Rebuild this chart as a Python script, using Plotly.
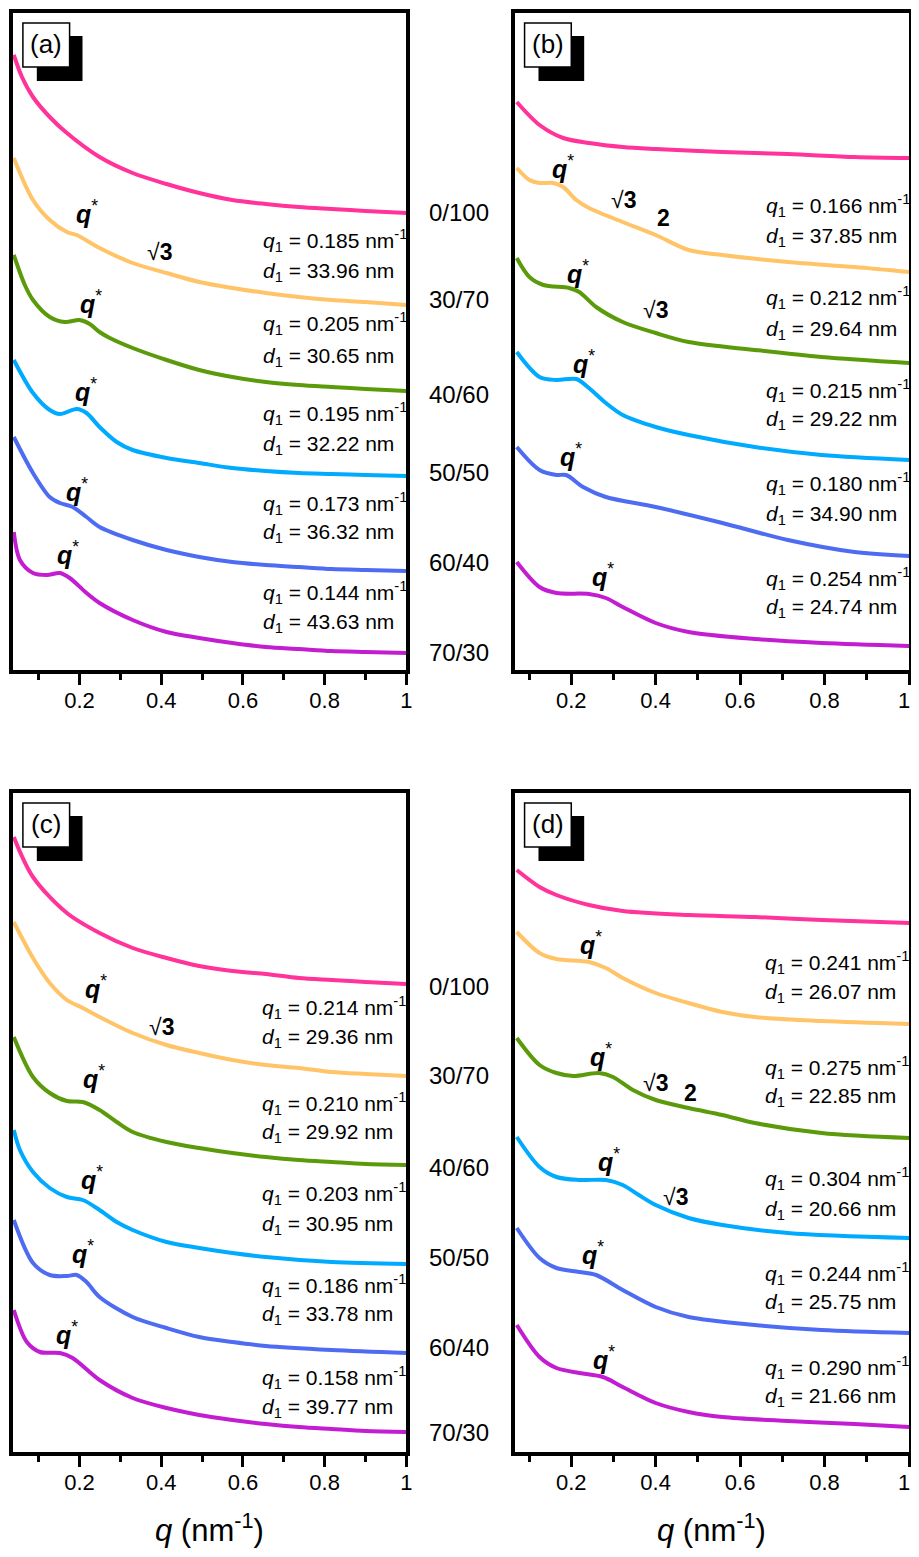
import plotly.graph_objects as go

# ---------------- data (q in nm^-1, offset log-intensity in a.u.) ----------------
samples = ["0/100", "30/70", "40/60", "50/50", "60/40", "70/30"]
colors = ["#FF3399", "#FFC468", "#5B9B0B", "#00AAFF", "#4E6CF2", "#C31DD2"]
tick_vals = [0.2, 0.4, 0.6, 0.8, 1.0]
tick_text = ["0.2", "0.4", "0.6", "0.8", "1"]
minor_vals = [0.1, 0.3, 0.5, 0.7, 0.9]

# Panel (a)
A_q0 = [0.039, 0.059, 0.086, 0.127, 0.169, 0.249, 0.330, 0.413, 0.493, 0.574, 0.656, 0.737, 0.817, 0.900, 1.0]
A_I0 = [615, 593, 573, 553, 537, 513, 497, 486, 477, 470, 466, 463, 461, 459, 457]
A_q1 = [0.039, 0.086, 0.127, 0.169, 0.193, 0.249, 0.330, 0.413, 0.493, 0.574, 0.656, 0.737, 0.817, 0.900, 1.0]
A_I1 = [512, 470, 450, 438, 435, 422, 407, 397, 388, 382, 377, 373, 370, 368, 365]
A_q2 = [0.039, 0.066, 0.086, 0.127, 0.164, 0.200, 0.225, 0.249, 0.274, 0.330, 0.413, 0.493, 0.574, 0.656, 0.737, 0.817, 0.900, 1.0]
A_I2 = [415, 385, 370, 353, 348, 350, 346, 338, 332, 322, 310, 300, 293, 288, 285, 283, 281, 279]
A_q3 = [0.039, 0.086, 0.127, 0.152, 0.193, 0.217, 0.249, 0.291, 0.330, 0.413, 0.493, 0.574, 0.656, 0.737, 0.817, 0.900, 1.0]
A_I3 = [310, 277, 260, 256, 261, 257, 243, 228, 220, 212, 207, 202, 199, 197, 196, 195, 194]
A_q4 = [0.039, 0.086, 0.127, 0.152, 0.183, 0.217, 0.249, 0.330, 0.413, 0.493, 0.574, 0.656, 0.737, 0.817, 0.900, 1.0]
A_I4 = [233, 197, 173, 167, 163, 153, 143, 130, 120, 113, 108, 105, 103, 101, 100, 99]
A_q5 = [0.039, 0.054, 0.086, 0.120, 0.152, 0.176, 0.217, 0.249, 0.330, 0.413, 0.493, 0.574, 0.656, 0.737, 0.817, 0.900, 1.0]
A_I5 = [138, 110, 97, 95, 97, 92, 77, 67, 50, 38, 32, 27, 23, 21, 19, 18, 17]

# Panel (b)
B_q0 = [0.071, 0.125, 0.181, 0.242, 0.322, 0.400, 0.558, 0.713, 0.871, 1.0]
B_I0 = [568, 545, 532, 527, 523, 521, 518, 516, 513, 512]
B_q1 = [0.071, 0.101, 0.125, 0.158, 0.181, 0.212, 0.242, 0.322, 0.400, 0.478, 0.558, 0.713, 0.871, 1.0]
B_I1 = [502, 490, 487, 487, 483, 470, 462, 448, 435, 420, 415, 408, 403, 398]
B_q2 = [0.071, 0.101, 0.134, 0.195, 0.219, 0.259, 0.322, 0.400, 0.478, 0.635, 0.793, 1.0]
B_I2 = [412, 393, 385, 382, 378, 363, 348, 337, 328, 320, 313, 307]
B_q3 = [0.071, 0.125, 0.165, 0.212, 0.242, 0.282, 0.322, 0.400, 0.478, 0.635, 0.793, 1.0]
B_I3 = [318, 293, 290, 291, 282, 267, 255, 243, 235, 223, 215, 210]
B_q4 = [0.071, 0.125, 0.165, 0.188, 0.228, 0.282, 0.400, 0.558, 0.713, 0.871, 1.0]
B_I4 = [223, 200, 195, 195, 183, 173, 163, 147, 130, 118, 114]
B_q5 = [0.071, 0.125, 0.165, 0.242, 0.282, 0.322, 0.400, 0.478, 0.635, 0.793, 1.0]
B_I5 = [108, 83, 77, 76, 72, 63, 47, 38, 31, 27, 24]

# Panel (c)
C_q0 = [0.039, 0.086, 0.169, 0.249, 0.330, 0.413, 0.493, 0.574, 0.656, 0.737, 0.817, 0.900, 1.0]
C_I0 = [615, 575, 539, 519, 504, 494, 486, 481, 478, 474, 472, 470, 468]
C_q1 = [0.039, 0.086, 0.127, 0.169, 0.208, 0.249, 0.330, 0.413, 0.493, 0.574, 0.656, 0.737, 0.817, 0.900, 1.0]
C_I1 = [530, 494, 469, 452, 444, 435, 419, 407, 399, 392, 387, 384, 380, 378, 376]
C_q2 = [0.039, 0.086, 0.127, 0.169, 0.208, 0.249, 0.291, 0.330, 0.413, 0.493, 0.574, 0.656, 0.737, 0.817, 0.900, 1.0]
C_I2 = [415, 375, 359, 351, 350, 342, 330, 320, 310, 304, 299, 295, 292, 290, 288, 287]
C_q3 = [0.039, 0.054, 0.086, 0.127, 0.169, 0.208, 0.249, 0.291, 0.330, 0.413, 0.493, 0.574, 0.656, 0.817, 1.0]
C_I3 = [322, 302, 280, 264, 255, 252, 242, 230, 222, 210, 204, 199, 195, 190, 188]
C_q4 = [0.039, 0.086, 0.127, 0.169, 0.193, 0.217, 0.249, 0.330, 0.413, 0.493, 0.574, 0.656, 0.817, 1.0]
C_I4 = [232, 189, 177, 176, 177, 170, 155, 135, 124, 115, 110, 106, 102, 99]
C_q5 = [0.039, 0.071, 0.103, 0.152, 0.183, 0.249, 0.330, 0.413, 0.493, 0.574, 0.656, 0.737, 0.817, 0.900, 1.0]
C_I5 = [142, 110, 100, 99, 94, 72, 54, 44, 37, 32, 28, 25, 23, 21, 20]

# Panel (d)
D_q0 = [0.071, 0.125, 0.165, 0.242, 0.322, 0.478, 0.635, 0.793, 1.0]
D_I0 = [582, 565, 557, 547, 541, 537, 535, 532, 529]
D_q1 = [0.071, 0.125, 0.165, 0.242, 0.282, 0.322, 0.400, 0.478, 0.558, 0.635, 0.793, 1.0]
D_I1 = [520, 499, 493, 490, 484, 474, 459, 449, 440, 435, 431, 428]
D_q2 = [0.071, 0.125, 0.165, 0.205, 0.266, 0.299, 0.346, 0.400, 0.478, 0.558, 0.635, 0.793, 1.0]
D_I2 = [414, 387, 379, 376, 379, 375, 362, 352, 344, 337, 329, 319, 314]
D_q3 = [0.071, 0.125, 0.165, 0.219, 0.282, 0.322, 0.360, 0.400, 0.478, 0.558, 0.713, 1.0]
D_I3 = [315, 285, 275, 272, 272, 267, 257, 247, 234, 227, 219, 214]
D_q4 = [0.071, 0.125, 0.165, 0.219, 0.259, 0.322, 0.400, 0.478, 0.635, 0.793, 1.0]
D_I4 = [224, 194, 184, 180, 177, 162, 145, 135, 127, 122, 119]
D_q5 = [0.071, 0.125, 0.165, 0.219, 0.275, 0.322, 0.400, 0.478, 0.558, 0.713, 0.871, 1.0]
D_I5 = [127, 95, 84, 79, 75, 65, 49, 40, 35, 31, 28, 25]

# peak parameters
q1_a = ["0.185", "0.205", "0.195", "0.173", "0.144"]
d1_a = ["33.96", "30.65", "32.22", "36.32", "43.63"]
q1_b = ["0.166", "0.212", "0.215", "0.180", "0.254"]
d1_b = ["37.85", "29.64", "29.22", "34.90", "24.74"]
q1_c = ["0.214", "0.210", "0.203", "0.186", "0.158"]
d1_c = ["29.36", "29.92", "30.95", "33.78", "39.77"]
q1_d = ["0.241", "0.275", "0.304", "0.244", "0.290"]
d1_d = ["26.07", "22.85", "20.66", "25.75", "21.66"]

# ---------------- layout helpers (page pixel -> paper) ----------------
# the page body has an 8 px default margin, so the figure is offset by 8 px
OFF = 8
W, H = 911, 1541
FONT = "Liberation Sans, Arial, sans-serif"


def px(x):
    return (x - OFF) / W


def py(y):
    return 1 - (y - OFF) / H


panels = {
    "a": dict(x0=13, x1=409, y0=13, y1=670, xr=[0.037, 1.0], yr=[0, 657],
              curves=[(A_q0, A_I0), (A_q1, A_I1), (A_q2, A_I2), (A_q3, A_I3), (A_q4, A_I4), (A_q5, A_I5)]),
    "b": dict(x0=518, x1=915, y0=13, y1=670, xr=[0.066, 1.0], yr=[0, 657],
              curves=[(B_q0, B_I0), (B_q1, B_I1), (B_q2, B_I2), (B_q3, B_I3), (B_q4, B_I4), (B_q5, B_I5)]),
    "c": dict(x0=13, x1=409, y0=793, y1=1452, xr=[0.037, 1.0], yr=[0, 659],
              curves=[(C_q0, C_I0), (C_q1, C_I1), (C_q2, C_I2), (C_q3, C_I3), (C_q4, C_I4), (C_q5, C_I5)]),
    "d": dict(x0=518, x1=915, y0=793, y1=1452, xr=[0.066, 1.0], yr=[0, 659],
              curves=[(D_q0, D_I0), (D_q1, D_I1), (D_q2, D_I2), (D_q3, D_I3), (D_q4, D_I4), (D_q5, D_I5)]),
}

fig = go.Figure()
layout = dict(
    width=W, height=H, margin=dict(l=0, r=0, t=0, b=0),
    paper_bgcolor="white", plot_bgcolor="white", showlegend=False,
    font=dict(family=FONT, color="black"),
)
annotations = []
shapes = []


def label(text, x, y, size=21, xanchor="center"):
    annotations.append(dict(text=text, x=px(x), y=py(y), xref="paper", yref="paper",
                            showarrow=False, xanchor=xanchor, yanchor="middle",
                            font=dict(size=size, family=FONT, color="black")))


for i, (name, p) in enumerate(panels.items()):
    n = i + 1
    xa = "x" if n == 1 else f"x{n}"
    ya = "y" if n == 1 else f"y{n}"
    right_panel = p["x1"] > 900
    for (q, I), c, s in zip(p["curves"], colors, samples):
        fig.add_trace(go.Scatter(x=q, y=I, mode="lines", name=s, xaxis=xa, yaxis=ya,
                                 line=dict(color=c, width=4, shape="spline", smoothing=0.9)))
    ttext = list(tick_text)
    if right_panel:
        ttext[-1] = ""  # drawn as an annotation so it is not cut at the page edge
    layout[f"xaxis{'' if n == 1 else n}"] = dict(
        domain=[px(p["x0"]), px(p["x1"])], anchor=ya, range=p["xr"],
        showline=True, linecolor="black", linewidth=4, mirror=True,
        ticks="outside", ticklen=11, tickwidth=3, tickcolor="black",
        tickvals=tick_vals, ticktext=ttext, tickfont=dict(size=22, family=FONT),
        ticklabelstandoff=-3,
        minor=dict(ticks="outside", tickvals=minor_vals, ticklen=6, tickwidth=3,
                   tickcolor="black", showgrid=False),
        showgrid=False, zeroline=False,
    )
    layout[f"yaxis{'' if n == 1 else n}"] = dict(
        domain=[py(p["y1"]), py(p["y0"])], anchor=xa, range=p["yr"],
        showline=True, linecolor="black", linewidth=4, mirror=True,
        showticklabels=False, ticks="", showgrid=False, zeroline=False,
    )
    if right_panel:
        label("1", 918, p["y1"] + 30, 22, "right")
    # panel label box with shadow
    bx, by = p["x0"] + 10, p["y0"] + 10
    shapes.append(dict(type="rect", xref="paper", yref="paper",
                       x0=px(bx + 14), x1=px(bx + 60), y0=py(by + 58), y1=py(by + 13),
                       fillcolor="black", line=dict(width=0)))
    shapes.append(dict(type="rect", xref="paper", yref="paper",
                       x0=px(bx), x1=px(bx + 47), y0=py(by + 44), y1=py(by),
                       fillcolor="white", line=dict(color="black", width=1.5)))
    annotations.append(dict(text=f"({name})", x=px(bx + 23.5), y=py(by + 21), xref="paper", yref="paper",
                            showarrow=False, xanchor="center", yanchor="middle",
                            font=dict(size=26, family=FONT)))


# q1/d1 text blocks
blocks = [
    (q1_a, d1_a, 263, [240, 323, 413, 503, 592], [272, 357, 445, 533, 623]),
    (q1_b, d1_b, 769, [205, 298, 390, 483, 578], [237, 330, 420, 515, 608]),
    (q1_c, d1_c, 262, [1008, 1103, 1193, 1285, 1377], [1038, 1133, 1225, 1315, 1408]),
    (q1_d, d1_d, 768, [962, 1067, 1178, 1273, 1367], [993, 1097, 1210, 1303, 1397]),
]
for qs, ds, x, yq, yd in blocks:
    for qv, dv, a, b in zip(qs, ds, yq, yd):
        label(f"<i>q</i><sub>1</sub> = {qv} nm<sup>-1</sup>", x, a, 21, "left")
        label(f"<i>d</i><sub>1</sub> = {dv} nm", x, b, 21, "left")

# q* markers
qstar_pos = [(88, 212), (92, 302), (87, 390), (77, 490), (68, 553),
             (567, 167), (582, 272), (588, 362), (575, 455), (607, 575),
             (97, 987), (95, 1077), (93, 1178), (83, 1252), (67, 1333),
             (595, 943), (605, 1055), (613, 1160), (597, 1253), (608, 1358)]
for x, y in qstar_pos:
    label("<b><i>q</i></b><sup>*</sup>", x, y, 25)

for x, y in [(161, 252), (628, 200), (660, 310), (163, 1027), (660, 1083), (680, 1197)]:
    label("√<b>3</b>", x, y, 23)
for x, y in [(668, 218), (695, 1093)]:
    label("<b>2</b>", x, y, 23)

# sample labels between panels
for s, y in zip(samples, [212, 299, 395, 472, 563, 652]):
    label(s, 430, y, 24, "left")
for s, y in zip(samples, [987, 1075, 1167, 1257, 1347, 1432]):
    label(s, 430, y, 24, "left")

# x-axis titles
label("<i>q</i> (nm<sup>-1</sup>)", 211, 1528, 31)
label("<i>q</i> (nm<sup>-1</sup>)", 716, 1528, 31)

layout["annotations"] = annotations
layout["shapes"] = shapes
fig.update_layout(**layout)
fig.write_html("out.html")
